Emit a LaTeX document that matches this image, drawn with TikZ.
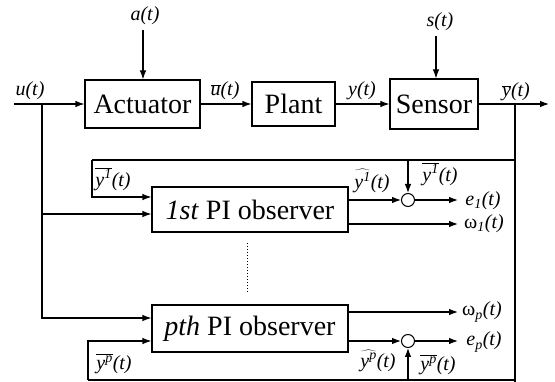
\documentclass[tikz,border=0pt]{standalone}
\usepackage{fontspec}
\setmainfont{Liberation Serif}
\usetikzlibrary{arrows.meta,calc}
\newcommand{\olbar}[1]{$\overline{\mbox{#1}}$}
\newcommand{\whhat}[1]{$\widehat{\mbox{#1}}$}
\tikzset{
  blk/.style={draw, line width=1.1pt, inner sep=0pt, font=\fontsize{28}{32}\selectfont},
  sumc/.style={circle, draw, line width=1pt, minimum size=13pt, inner sep=0pt},
  arr/.style={-{Latex[length=9pt,width=6.5pt]}},
  lab/.style={font=\fontsize{20}{22}\selectfont\itshape, inner sep=0pt}
}
\begin{document}
\begin{tikzpicture}[x=1pt,y=-1pt,line width=1.1pt]
\useasboundingbox (0,0) rectangle (555,382);
% blocks
\node[blk, minimum width=115pt, minimum height=48pt] (act) at (142.5,104) {Actuator};
\node[blk, minimum width=83pt, minimum height=44pt] (plant) at (293.5,104) {Plant};
\node[blk, minimum width=88pt, minimum height=50pt] (sens) at (434,104) {Sensor};
\node[blk, minimum width=196pt, minimum height=45pt] (obs1) at (250,209.5) {\textit{1st} PI observer};
\node[blk, minimum width=196pt, minimum height=47pt] (obsp) at (250,328.5) {\textit{pth} PI observer};
\node[sumc] (c1) at (408,200) {};
\node[sumc] (c2) at (408,341) {};
% coordinates
\coordinate (uin) at (14,104);
\coordinate (ubr) at (42,104);
\coordinate (ybr) at (515,104);
\coordinate (yout) at (549,104);
\coordinate (fbR) at (515,160);
\coordinate (fbL) at (92,160);
\coordinate (fbC) at (408,160);
\coordinate (botR) at (515,382);
\coordinate (botL) at (88,380);
\coordinate (botC) at (408,380);
\coordinate (atop) at (143,30);
\coordinate (stop) at (436,36);
\coordinate (dotA) at (247,243);
\coordinate (dotB) at (247,292);
\coordinate (e1e) at (458,200);
\coordinate (w1e) at (458,224);
\coordinate (wpe) at (458,312);
\coordinate (epe) at (458,341);
% main path
\draw (uin) -- (ubr);
\draw[arr] (ubr) -- (act.west);
\draw[arr] (act.east) -- (plant.west);
\draw[arr] (plant.east) -- (sens.west);
\draw[arr] (sens.east) -- (yout);
\draw[arr] (atop) -- (act.north -| atop);
\draw[arr] (stop) -- (sens.north -| stop);
% feedback to observers
\draw (ybr) -- (botR);
\draw (ybr |- botL) -- (botL);
\draw[arr] (botL) |- ($(obsp.west)+(0,12.5)$);
\draw[arr] (botC) -- (c2.south);
\draw (ybr) -- (fbR) -- (fbL);
\draw[arr] (fbL) |- ($(obs1.west)+(0,-12.5)$);
\draw[arr] (fbC) -- (c1.north);
\draw[arr] (ubr) |- ($(obs1.west)+(0,4.5)$);
\draw[arr] (ubr) |- ($(obsp.west)+(0,-10.5)$);
% outputs
\draw[arr] (obs1.east |- c1) -- (c1.west);
\draw[arr] (c1.east) -- (e1e);
\draw[arr] (obs1.east |- w1e) -- (w1e);
\draw[arr] (obsp.east |- wpe) -- (wpe);
\draw[arr] (obsp.east |- c2) -- (c2.west);
\draw[arr] (c2.east) -- (epe);
\draw[dotted, line width=1pt] (dotA) -- (dotB);
% labels
\node[lab] (lu) at (30,91) {u(t)};
\node[lab] (lub) at (225,91) {\olbar{u}(t)};
\node[lab] (ly) at (362,91) {y(t)};
\node[lab] (lyb) at (516,92) {\olbar{y}(t)};
\node[lab] (la) at (145,16) {a(t)};
\node[lab] (ls) at (440,22) {s(t)};
\node[lab] (ly1l) at (113,179) {\olbar{y\textsuperscript{1}}(t)};
\node[lab] (ly1h) at (372,181) {\whhat{y\textsuperscript{1}}(t)};
\node[lab] (ly1r) at (440,174) {\olbar{y\textsuperscript{1}}(t)};
\node[lab] (le1) at (483,201) {e\textsubscript{1}(t)};
\node[lab] (lw1) at (484,224) {{\upshape ω}\textsubscript{1}(t)};
\node[lab] (lwp) at (482,312) {{\upshape ω}\textsubscript{p}(t)};
\node[lab] (lep) at (484,342) {e\textsubscript{p}(t)};
\node[lab] (lyph) at (378,361) {\whhat{y\textsuperscript{p}}(t)};
\node[lab] (lypr) at (438,365) {\olbar{y\textsuperscript{p}}(t)};
\node[lab] (lypl) at (114,364) {\olbar{y\textsuperscript{p}}(t)};
\end{tikzpicture}
\end{document}
